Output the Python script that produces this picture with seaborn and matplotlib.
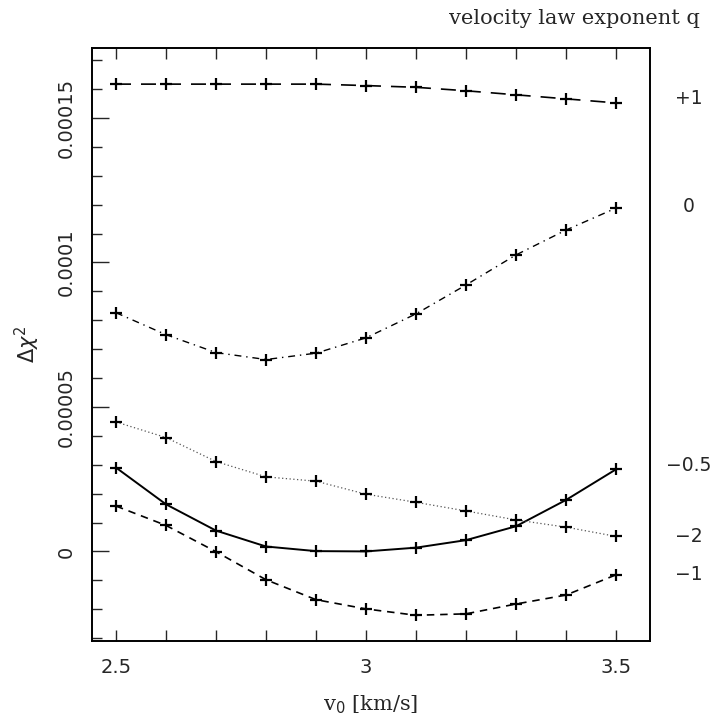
import numpy as np
import pandas as pd
import matplotlib
matplotlib.use("Agg")
import matplotlib.pyplot as plt
from matplotlib.ticker import MultipleLocator, FixedLocator
import seaborn as sns

v0 = [2.5, 2.6, 2.7, 2.8, 2.9, 3.0, 3.1, 3.2, 3.3, 3.4, 3.5]
q_labels = ["+1", "0", "\u22120.5", "\u22122", "\u22121"]
chi_p1 = [16.17, 16.17, 16.17, 16.17, 16.17, 16.12, 16.06, 15.94, 15.80, 15.66, 15.52]
chi_0 = [8.26, 7.50, 6.88, 6.64, 6.86, 7.39, 8.22, 9.22, 10.26, 11.12, 11.88]
chi_m05 = [2.90, 1.63, 0.72, 0.17, 0.01, 0.00, 0.13, 0.39, 0.87, 1.78, 2.84]
chi_m2 = [4.48, 3.94, 3.11, 2.58, 2.43, 1.98, 1.70, 1.40, 1.09, 0.84, 0.52]
chi_m1 = [1.57, 0.90, -0.01, -0.98, -1.67, -1.99, -2.21, -2.16, -1.82, -1.51, -0.81]
label_y = [15.67, 11.95, 2.98, 0.50, -0.81]
scale = 1e-5

series = [chi_p1, chi_0, chi_m05, chi_m2, chi_m1]
styles = [
    dict(lw=1.2, dashes=(9, 6), color="black"),
    dict(lw=1.0, dashes=(5, 3.5, 1, 3.5), color="black"),
    dict(lw=1.4, dashes=(), color="black"),
    dict(lw=0.9, dashes=(1, 2), color="#555555"),
    dict(lw=1.2, dashes=(4.5, 3.5), color="black"),
]

sns.set_style("ticks")
plt.rcParams['font.family'] = ['DejaVu Sans']

fig = plt.figure(figsize=(7.14, 7.22), dpi=100)
ax = fig.add_axes([92/714, 1-641/722, (650-92)/714, (641-48)/722])

for lab, vals, st in zip(q_labels, series, styles):
    df = pd.DataFrame({"v0": v0, "chi": np.array(vals) * scale})
    sns.lineplot(data=df, x="v0", y="chi", ax=ax, color=st["color"],
                 lw=st["lw"], legend=False)
    ln = ax.lines[-1]
    if st["dashes"]:
        ln.set_dashes(st["dashes"])
    ax.plot(v0, np.array(vals) * scale, ls="none", marker="+", ms=9,
            mew=1.6, color="black")

for lab, yv in zip(q_labels, label_y):
    ax.text(3.645, yv * scale, lab, ha="center", va="center", fontsize=13.5,
            clip_on=False)

ax.set_xlim(2.452, 3.568)
ax.set_ylim(-3.10e-5, 17.42e-5)
ax.xaxis.set_major_locator(FixedLocator([2.5, 3.0, 3.5]))
ax.xaxis.set_minor_locator(MultipleLocator(0.1))
ax.set_xticklabels(["2.5", "3", "3.5"])
ax.yaxis.set_major_locator(FixedLocator([0, 5e-5, 1e-4, 1.5e-4]))
ax.yaxis.set_minor_locator(MultipleLocator(1e-5))
ax.set_yticklabels(["0", "0.00005", "0.0001", "0.00015"], rotation=90,
                   va="center")
ax.tick_params(axis="x", which="both", direction="in", top=True, bottom=True,
               length=8, width=1, labelsize=14, pad=12)
ax.tick_params(axis="y", which="major", direction="in", left=True, right=False,
               length=12, width=1, labelsize=14, pad=12)
ax.tick_params(axis="y", which="minor", direction="in", left=True, right=False,
               length=7, width=1)
for sp in ax.spines.values():
    sp.set_linewidth(1.4)
    sp.set_color("black")

ax.set_xlabel(r"v$_0$ [km/s]", fontsize=15, family="DejaVu Serif", labelpad=12)
ax.set_ylabel(r"$\Delta\chi^2$", fontsize=15, labelpad=10)
fig.text(700/714, 1-18/722, "velocity law exponent q", ha="right", va="center",
         fontsize=15, family="DejaVu Serif")

fig.savefig("out.png", dpi=100, facecolor="white")
